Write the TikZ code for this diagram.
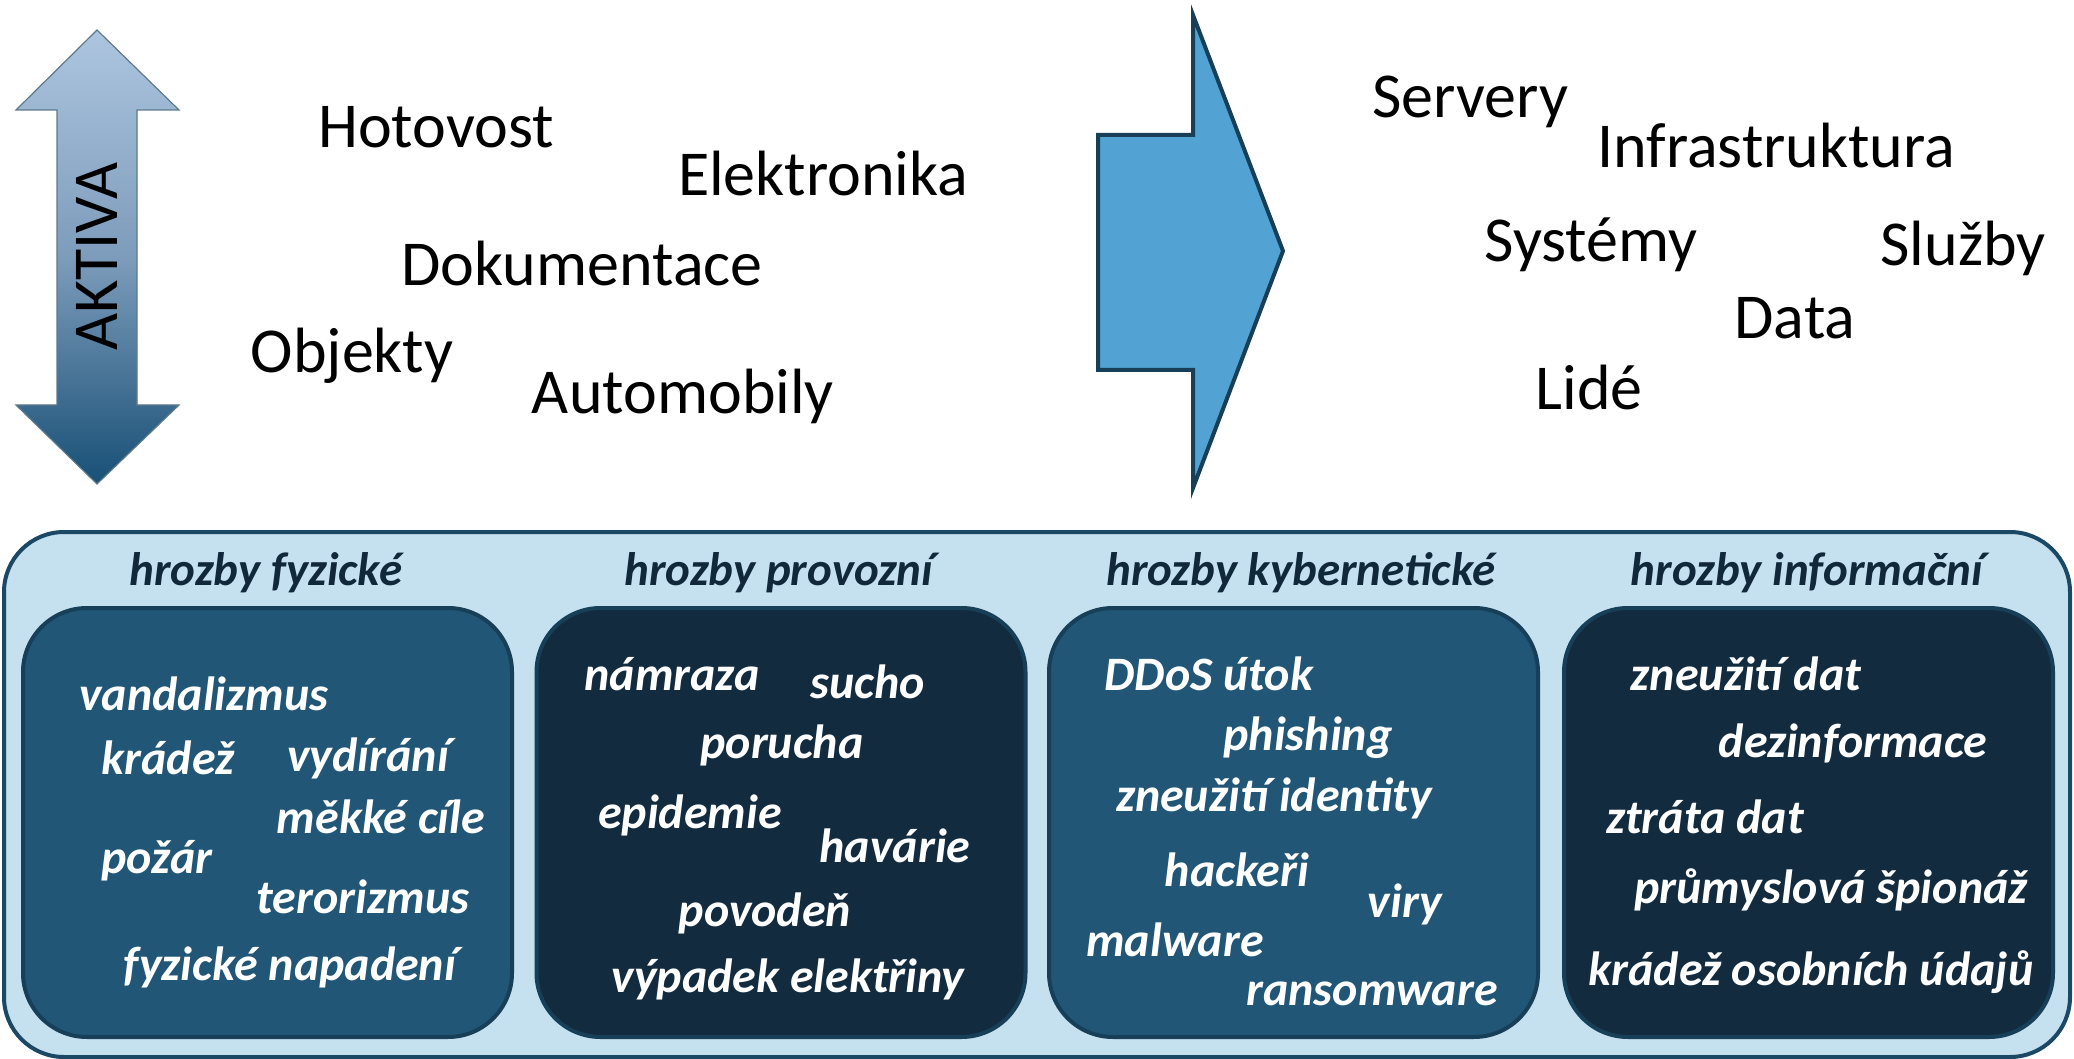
\documentclass[tikz,border=0pt]{standalone}
\usepackage{fontspec}
\setmainfont{Carlito}
\definecolor{panelfill}{HTML}{C5E0EE}
\definecolor{panelline}{HTML}{1B4865}
\definecolor{boxline}{HTML}{173F58}
\definecolor{boxmid}{HTML}{215677}
\definecolor{boxdark}{HTML}{122B3F}
\definecolor{headcol}{HTML}{10283A}
\definecolor{arrowfill}{HTML}{52A3D3}
\definecolor{shadetop}{HTML}{ADC5DF}
\definecolor{shademid}{HTML}{7D9CBB}
\definecolor{shadebot}{HTML}{185076}
\begin{document}
\begin{tikzpicture}[x=0.5pt,y=-0.5pt,
  toptext/.style={anchor=base, inner sep=0pt, font=\fontsize{32}{38}\selectfont, text=black},
  header/.style={anchor=base, inner sep=0pt, font=\fontsize{23.5}{28}\selectfont\bfseries\itshape, text=headcol},
  item/.style={anchor=base, inner sep=0pt, font=\fontsize{24}{29}\selectfont\bfseries\itshape, text=white},
  panel/.style={draw=panelline, fill=panelfill, line width=2pt, rounded corners=30pt,
    minimum width=1033pt, minimum height=262.5pt, inner sep=0pt},
  threatbox/.style={draw=boxline, line width=2pt, rounded corners=32pt,
    minimum width=244.5pt, minimum height=214.5pt, inner sep=0pt},
  midbox/.style={threatbox, fill=boxmid},
  darkbox/.style={threatbox, fill=boxdark},
  bigarrow/.style={draw=boxline, fill=arrowfill, line width=2pt, line join=miter},
  dblarrow/.style={draw=boxline!70, line width=0.6pt, top color=shadetop, bottom color=shadebot, middle color=shademid}
]
\useasboundingbox (0,0) rectangle (2074,1059);

% vertical double arrow with gradient
\shadedraw[dblarrow] (97,30) -- (179,110) -- (137,110) -- (137,405) -- (179,405)
  -- (97,484) -- (16,405) -- (57,405) -- (57,110) -- (16,110) -- cycle;
\node[toptext, anchor=center, rotate=90] (aktiva) at (97,257) {AKTIVA};

% physical assets
\node[toptext] (hotovost) at (436,148) {Hotovost};
\node[toptext] (elektronika) at (823,196) {Elektronika};
\node[toptext] (dokumentace) at (582,286) {Dokumentace};
\node[toptext] (objekty) at (352,372) {Objekty};
\node[toptext] (automobily) at (683,414) {Automobily};

% block arrow
\draw[bigarrow] (1098,135) -- (1193,135) -- (1193,15) -- (1283,251) -- (1193,488)
  -- (1193,370) -- (1098,370) -- cycle;

% digital assets
\node[toptext] (servery) at (1470,118) {Servery};
\node[toptext] (infra) at (1776,168) {Infrastruktura};
\node[toptext] (systemy) at (1591,262) {Systémy};
\node[toptext] (sluzby) at (1963,266) {Služby};
\node[toptext] (data) at (1795,339) {Data};
\node[toptext] (lide) at (1589,409) {Lidé};

% threats panel
\node[panel] (threats) at (1037,794.5) {};
\node[midbox] (fyz) at (267.5,822.5) {};
\node[darkbox] (prov) at (781,822.5) {};
\node[midbox] (kyb) at (1293.5,822.5) {};
\node[darkbox] (inf) at (1808.5,822.5) {};

\node[header] (hfyz) at (266,585) {hrozby fyzické};
\node[header] (hprov) at (779,585) {hrozby provozní};
\node[header] (hkyb) at (1301,585) {hrozby kybernetické};
\node[header] (hinf) at (1807,585) {hrozby informační};

% physical threats
\node[item] (f1) at (204,710) {vandalizmus};
\node[item] (f2) at (168,774) {krádež};
\node[item] (f3) at (368,771) {vydírání};
\node[item] (f4) at (381,833) {měkké cíle};
\node[item] (f5) at (157,873) {požár};
\node[item] (f6) at (363,913) {terorizmus};
\node[item] (f7) at (290,980) {fyzické napadení};

% operational threats
\node[item] (p1) at (672,690) {námraza};
\node[item] (p2) at (868,698) {sucho};
\node[item] (p3) at (782,758) {porucha};
\node[item] (p4) at (690,828) {epidemie};
\node[item] (p5) at (895,862) {havárie};
\node[item] (p6) at (765,926) {povodeň};
\node[item] (p7) at (788,992) {výpadek elektřiny};

% cyber threats
\node[item] (k1) at (1209,690) {DDoS útok};
\node[item] (k2) at (1308,750) {phishing};
\node[item] (k3) at (1274,811) {zneužití identity};
\node[item] (k4) at (1237,886) {hackeři};
\node[item] (k5) at (1405,917) {viry};
\node[item] (k6) at (1175,956) {malware};
\node[item] (k7) at (1372,1005) {ransomware};

% information threats
\node[item] (i1) at (1746,690) {zneužití dat};
\node[item] (i2) at (1853,757) {dezinformace};
\node[item] (i3) at (1705,833) {ztráta dat};
\node[item] (i4) at (1831,903) {průmyslová špionáž};
\node[item] (i5) at (1811,985) {krádež osobních údajů};
\end{tikzpicture}
\end{document}
